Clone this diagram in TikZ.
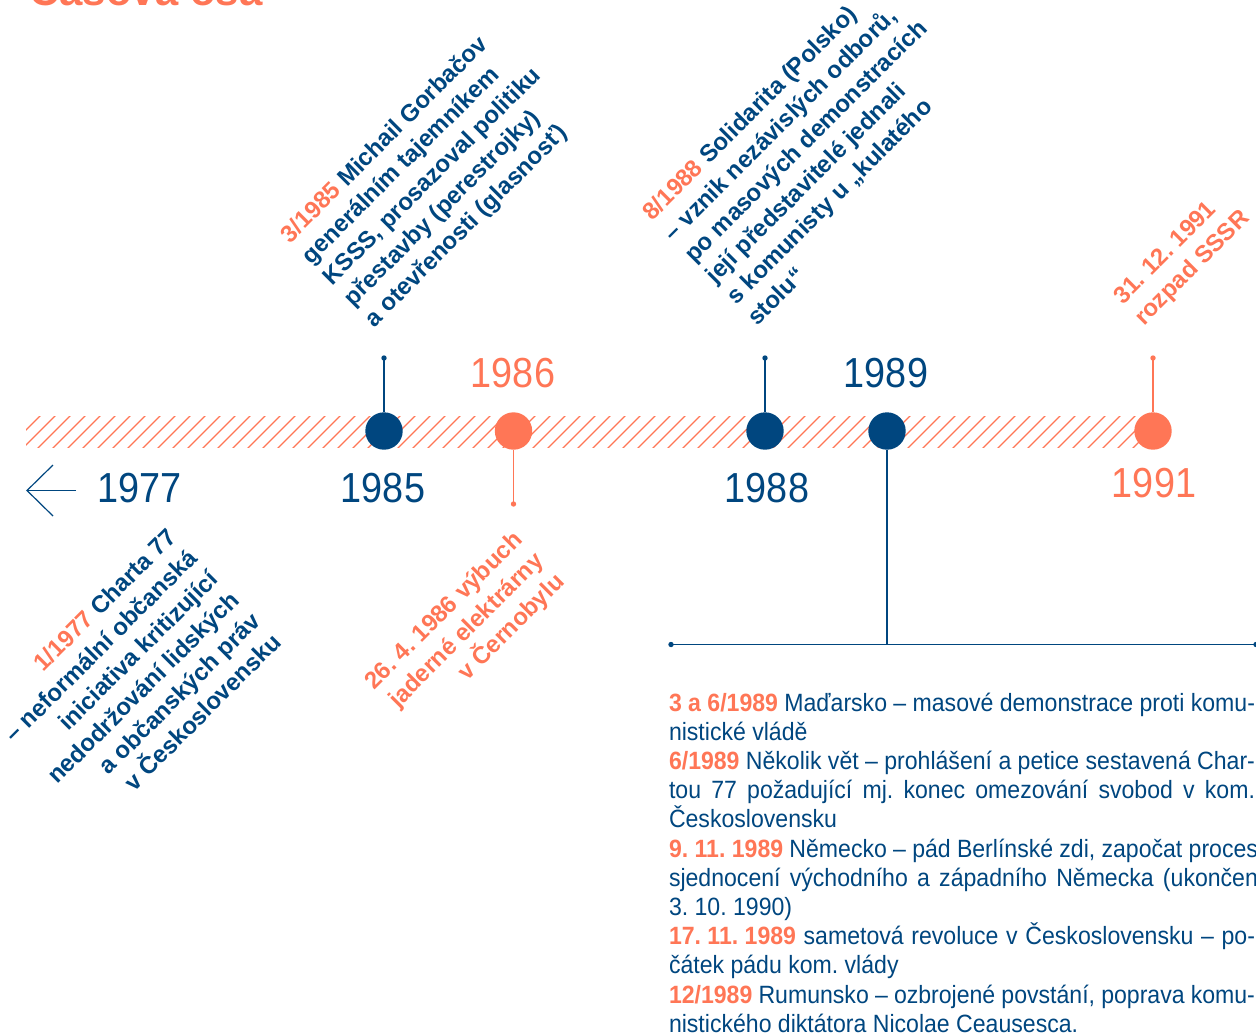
\documentclass[tikz,border=0pt]{standalone}
\usepackage{fontspec}
\setmainfont{Liberation Sans}
\newfontfamily\tlyearfont[FakeStretch=0.9]{Liberation Sans}
\newfontfamily\tlbodyfont[FakeStretch=0.923]{Liberation Sans}
\definecolor{tlorange}{RGB}{255,118,86}
\definecolor{tlblue}{RGB}{0,70,127}
\newcommand{\tlhl}[1]{\mbox{\textcolor{tlorange}{\bfseries #1}}}
\newcommand{\tljust}[2][586pt]{\makebox[#1][s]{#2}}
\frenchspacing
\begin{document}
\begin{tikzpicture}[x=1pt,y=1pt,
  every node/.style={inner sep=0pt, outer sep=0pt},
  rline/.style={transform shape, font=\fontsize{24}{29.7}\selectfont\bfseries, text=tlblue},
  rlineo/.style={transform shape, font=\fontsize{24}{29.7}\selectfont\bfseries, text=tlorange},
  yearlabel/.style={font=\tlyearfont\fontsize{42}{50}\selectfont, anchor=base},
  bigdot/.style={circle, minimum size=37.4pt, draw=none},
  tipdot/.style={circle, minimum size=5.4pt, draw=none},
  stem/.style={line width=1.3pt},
  hatchline/.style={draw=tlorange, line width=1.2pt},
  bodyline/.style={font=\tlbodyfont\fontsize{25}{29.2}\selectfont\frenchspacing, text=tlblue, anchor=base west},
]
\useasboundingbox (0,0) rectangle (1256,-1034);
\clip (0,0) rectangle (1256,-1034);

% title (mostly cut off)
\node[anchor=base west, font=\fontsize{42}{50}\selectfont\bfseries, text=tlorange] (title) at (29,-5.5) {Časová osa};

% hatched band
\begin{scope}
  \clip (26,-416) rectangle (1153,-447.5);
  \foreach \k in {0,...,77} \draw[hatchline] ({40+15*\k-34},-450) -- ({40+15*\k+2.5},-413.5);
\end{scope}

% big dots
\node[bigdot, fill=tlblue]   (c1985) at (384,-431) {};
\node[bigdot, fill=tlorange] (c1986) at (513.5,-431) {};
\node[bigdot, fill=tlblue]   (c1988) at (765,-431) {};
\node[bigdot, fill=tlblue]   (c1989) at (887,-431) {};
\node[bigdot, fill=tlorange] (c1991) at (1153,-431) {};

% stems
\node[tipdot, fill=tlblue]   (t1985) at (384,-358) {};
\node[tipdot, fill=tlorange] (t1986) at (513.5,-504) {};
\node[tipdot, fill=tlblue]   (t1988) at (765,-358) {};
\node[tipdot, fill=tlorange] (t1991) at (1153,-358) {};
\draw[stem, tlblue]   (t1985.center) -- (c1985);
\draw[stem, tlorange] (t1986.center) -- (c1986);
\draw[stem, tlblue]   (t1988.center) -- (c1988);
\draw[stem, tlorange] (t1991.center) -- (c1991);

% 1989 bracket
\coordinate (j1989) at (887,-644.5);
\node[tipdot, fill=tlblue] (h1) at (671,-644.5) {};
\node[tipdot, fill=tlblue] (h2) at (1256,-644.5) {};
\draw[stem, tlblue] (c1989) -- (j1989);
\draw[stem, tlblue] (h1.center) -- (h2.center);

% left arrow
\coordinate (a0) at (27,-490.5);
\coordinate (a1) at (76,-490.5);
\coordinate (a2) at (53,-465);
\coordinate (a3) at (53,-516);
\draw[tlblue, line width=1.2pt] (a1) -- (a0);
\draw[tlblue, line width=1.2pt] (a2) -- (a0) -- (a3);

% year labels
\node[yearlabel, text=tlblue]   (y1977) at (139.5,-502) {1977};
\node[yearlabel, text=tlblue]   (y1985) at (383,-502) {1985};
\node[yearlabel, text=tlorange] (y1986) at (513,-387) {1986};
\node[yearlabel, text=tlblue]   (y1988) at (767,-502) {1988};
\node[yearlabel, text=tlblue]   (y1989) at (886,-387) {1989};
\node[yearlabel, text=tlorange] (y1991) at (1154,-497) {1991};

% 3/1985 block
\begin{scope}[shift={(290.5,-244)}, rotate=45]
  \node[rline, anchor=base west] (m1) at (0,0) {\textcolor{tlorange}{3/1985} Michail Gorbačov};
  \node[rline, anchor=base west] (m2) at (0,-29.7) {generálním tajemníkem};
  \node[rline, anchor=base west] (m3) at (0,-59.4) {KSSS, prosazoval politiku};
  \node[rline, anchor=base west] (m4) at (0,-89.1) {přestavby (perestrojky)};
  \node[rline, anchor=base west] (m5) at (0,-118.8) {a otevřenosti (glasnosť)};
\end{scope}

% 8/1988 block
\begin{scope}[shift={(652.5,-221.5)}, rotate=45]
  \node[rline, anchor=base west] (s1) at (0,0) {\textcolor{tlorange}{8/1988} Solidarita (Polsko)};
  \node[rline, anchor=base west] (s2) at (0,-29.7) {– vznik nezávislých odborů,};
  \node[rline, anchor=base west] (s3) at (0,-59.4) {po masových demonstracích};
  \node[rline, anchor=base west] (s4) at (0,-89.1) {její představitelé jednali};
  \node[rline, anchor=base west] (s5) at (0,-118.8) {s komunisty u „kulatého};
  \node[rline, anchor=base west] (s6) at (0,-148.5) {stolu“};
\end{scope}

% 31.12.1991 block
\begin{scope}[shift={(1123,-305)}, rotate=45]
  \node[rlineo, anchor=base west] (r1) at (0,0) {31. 12. 1991};
  \node[rlineo, anchor=base west] (r2) at (0,-29.7) {rozpad SSSR};
\end{scope}

% 1/1977 block
\begin{scope}[shift={(177.5,-539)}, rotate=45]
  \node[rline, anchor=base east] (k1) at (0,0) {\textcolor{tlorange}{1/1977} Charta 77};
  \node[rline, anchor=base east] (k2) at (0,-29.7) {– neformální občanská};
  \node[rline, anchor=base east] (k3) at (0,-59.4) {iniciativa kritizující};
  \node[rline, anchor=base east] (k4) at (0,-89.1) {nedodržování lidských};
  \node[rline, anchor=base east] (k5) at (0,-118.8) {a občanských práv};
  \node[rline, anchor=base east] (k6) at (0,-148.5) {v Československu};
\end{scope}

% 26.4.1986 block
\begin{scope}[shift={(523.5,-541.5)}, rotate=45]
  \node[rlineo, anchor=base east] (e1) at (0,0) {26. 4. 1986 výbuch};
  \node[rlineo, anchor=base east] (e2) at (0,-29.7) {jaderné elektrárny};
  \node[rlineo, anchor=base east] (e3) at (0,-59.4) {v Černobylu};
\end{scope}

% 1989 text
\node[bodyline] (b1)  at (669,-711)    {\tljust{\tlhl{3 a 6/1989} Maďarsko – masové demonstrace proti komu-}};
\node[bodyline] (b2)  at (669,-740.2)  {nistické vládě};
\node[bodyline] (b3)  at (669,-769.4)  {\tljust{\tlhl{6/1989} Několik vět – prohlášení a petice sestavená Char-}};
\node[bodyline] (b4)  at (669,-798.6)  {\tljust{tou 77 požadující mj. konec omezování svobod v kom.}};
\node[bodyline] (b5)  at (669,-827.8)  {Československu};
\node[bodyline] (b6)  at (669,-857)    {\tljust[589pt]{\tlhl{9. 11. 1989} Německo – pád Berlínské zdi, započat proces}};
\node[bodyline] (b7)  at (669,-886.2)  {\tljust[589pt]{sjednocení východního a západního Německa (ukončen}};
\node[bodyline] (b8)  at (669,-915.4)  {3. 10. 1990)};
\node[bodyline] (b9)  at (669,-944.6)  {\tljust{\tlhl{17. 11. 1989} sametová revoluce v Československu – po-}};
\node[bodyline] (b10) at (669,-973.8)  {čátek pádu kom. vlády};
\node[bodyline] (b11) at (669,-1003)   {\tljust{\tlhl{12/1989} Rumunsko – ozbrojené povstání, poprava komu-}};
\node[bodyline] (b12) at (669,-1032.2) {nistického diktátora Nicolae Ceausesca.};
\end{tikzpicture}
\end{document}
